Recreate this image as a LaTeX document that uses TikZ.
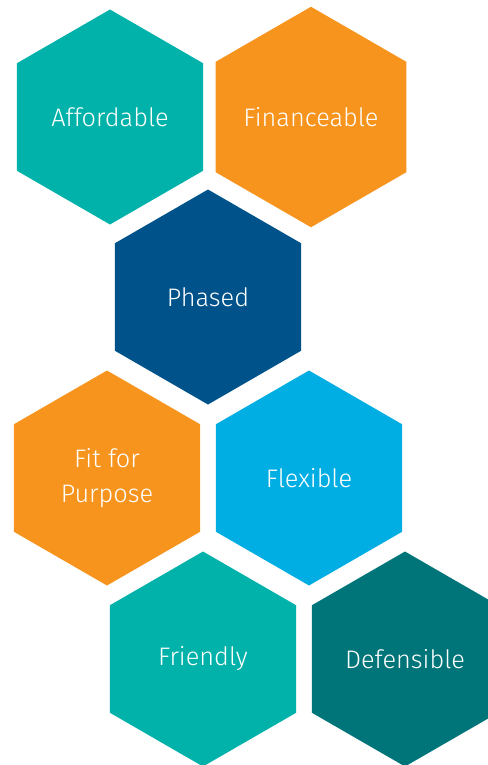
\documentclass[tikz,border=0pt]{standalone}
\usepackage{fontspec}
\setmainfont{Fira Sans}[UprightFont=* Light]
\usetikzlibrary{shapes.geometric}
\definecolor{hexteal}{HTML}{00B2A9}
\definecolor{hexorange}{HTML}{F7941E}
\definecolor{hexnavy}{HTML}{00538A}
\definecolor{hexblue}{HTML}{00AEE3}
\definecolor{hexdark}{HTML}{007579}
\begin{document}
\begin{tikzpicture}[x=0.75pt,y=-0.75pt,
  hex/.style={regular polygon, regular polygon sides=6, shape border rotate=30,
    minimum size=161.25pt, inner sep=0pt, draw=none, fill=#1, text=white,
    align=center, font=\fontsize{19}{26}\selectfont}]
\useasboundingbox (0,0) rectangle (488,765);
\clip (0,0) rectangle (488,765);
\node (affordable) [hex=hexteal] at (110,117) {Affordable};
\node (financeable) [hex=hexorange] at (311,117) {Financeable};
\node (phased) [hex=hexnavy] at (208,297) {Phased};
\node (fitforpurpose) [hex=hexorange] at (107,478) {Fit for\\Purpose};
\node (flexible) [hex=hexblue] at (309,478) {Flexible};
\node (friendly) [hex=hexteal] at (203,659) {Friendly};
\node (defensible) [hex=hexdark] at (405,659) {Defensible};
\end{tikzpicture}
\end{document}
